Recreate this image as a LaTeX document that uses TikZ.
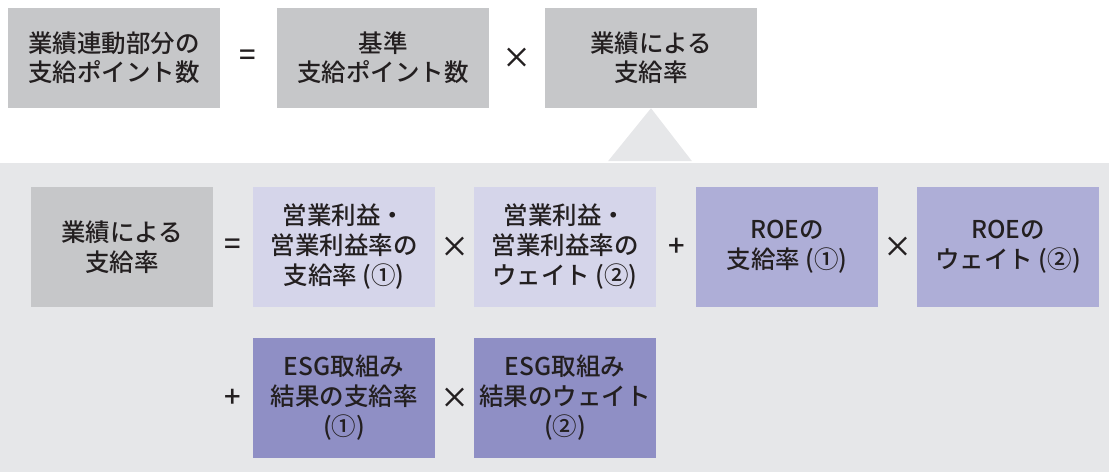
\documentclass[tikz,border=0pt]{standalone}
\usepackage{fontspec}
\setmainfont{Noto Sans CJK JP}[UprightFont={* Medium}]
\usepackage{tikz}
\definecolor{topgray}{HTML}{C6C7C9}
\definecolor{panelgray}{HTML}{E6E7E9}
\definecolor{lilac}{HTML}{D5D5EA}
\definecolor{roeblue}{HTML}{AEAED7}
\definecolor{esgblue}{HTML}{8F8FC5}
\definecolor{ink}{HTML}{231F20}

\begin{document}
\begin{tikzpicture}[x=1pt,y=-1pt,
  topbox/.style={fill=topgray,minimum width=212pt,minimum height=100pt,inner sep=0pt,align=center,text=ink,font=\fontsize{24.5}{29}\selectfont},
  ratebox/.style={minimum width=182pt,minimum height=120pt,inner sep=0pt,align=center,text=ink,font=\fontsize{24.5}{30}\selectfont},
  op/.style={text=ink,inner sep=0pt,font=\fontsize{29}{29}\selectfont}]

\useasboundingbox (0,0) rectangle (1109,472);

\node (pts) [topbox] at (114,58) {業績連動部分の\\支給ポイント数};
\node (eq1) [op] at (248,58) {=};
\node (base) [topbox] at (383,58) {基準\\支給ポイント数};
\node (mul1) [op] at (517,58) {×};
\node (rate) [topbox] at (651,58) {業績による\\支給率};

\fill[panelgray] (0,163) rectangle (1109,472);
\fill[panelgray] (rate.south) -- ++(41,53) -- ++(-84,0) -- cycle;

\node (rate2) [ratebox,fill=topgray] at (122,247) {業績による\\支給率};
\node (eq2) [op] at (233,247) {=};
\node (oppay) [ratebox,fill=lilac] at (344,247) {営業利益・\\営業利益率の\\支給率 (①)};
\node (mul2) [op] at (455,247) {×};
\node (opwt) [ratebox,fill=lilac] at (565,247) {営業利益・\\営業利益率の\\ウェイト (②)};
\node (plus1) [op] at (677,247) {+};
\node (roepay) [ratebox,fill=roeblue] at (787,247) {ROEの\\支給率 (①)};
\node (mul3) [op] at (898,247) {×};
\node (roewt) [ratebox,fill=roeblue] at (1008,247) {ROEの\\ウェイト (②)};

\node (plus2) [op] at (233,398) {+};
\node (esgpay) [ratebox,fill=esgblue] at (344,398) {ESG取組み\\結果の支給率\\(①)};
\node (mul4) [op] at (455,398) {×};
\node (esgwt) [ratebox,fill=esgblue] at (565,398) {ESG取組み\\結果のウェイト\\(②)};

\end{tikzpicture}
\end{document}
